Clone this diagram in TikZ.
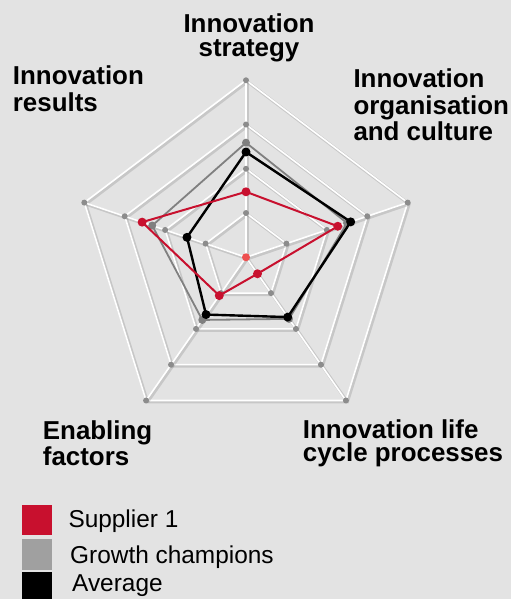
\documentclass[tikz,border=0pt]{standalone}
\usepackage{fontspec}
\setmainfont{Liberation Sans}
\usetikzlibrary{positioning}
\definecolor{suppred}{RGB}{200,16,46}
\definecolor{ctrred}{RGB}{238,80,80}
\definecolor{champgray}{RGB}{128,128,128}
\definecolor{keygray}{RGB}{160,160,160}
\definecolor{dotgray}{RGB}{140,140,140}
\definecolor{bggray}{RGB}{227,227,227}

\begin{document}
\begin{tikzpicture}[x=1bp,y=1bp,
  webline/.style={draw=white, line width=1.6bp, line join=round,
    preaction={draw=black, opacity=0.12, line width=3bp, transform canvas={shift={(1.5bp,-1.5bp)}}}},
  gdot/.style={circle, fill=dotgray, inner sep=0pt, minimum size=6bp},
  axislbl/.style={font=\bfseries\fontsize{26}{27}\selectfont, inner sep=0pt, align=left, anchor=base west},
  keybox/.style={minimum width=30bp, minimum height=30.7bp, inner sep=0pt, anchor=south west},
  keylbl/.style={font=\fontsize{24.5}{26}\selectfont, inner sep=0pt, anchor=base west}]
\useasboundingbox[fill=bggray] (0,0) rectangle (511,599);

\begin{scope}[shift={(246,341.7)}, x=42.5bp, y=44.25bp]
%axes
\coordinate (ctr) at (0,0);
\coordinate (strat) at (90:4);
\coordinate (org) at (18:4);
\coordinate (life) at (-54:4);
\coordinate (enab) at (234:4);
\coordinate (res) at (162:4);

%web
\draw[webline] (90:1) -- (18:1) -- (-54:1) -- (234:1) -- (162:1) -- cycle;
\draw[webline] (90:2) -- (18:2) -- (-54:2) -- (234:2) -- (162:2) -- cycle;
\draw[webline] (90:3) -- (18:3) -- (-54:3) -- (234:3) -- (162:3) -- cycle;
\draw[webline] (strat) -- (org) -- (life) -- (enab) -- (res) -- cycle;
\draw[webline] (ctr) -- (strat);
\draw[webline] (ctr) -- (org);
\draw[webline] (ctr) -- (life);
\draw[webline] (ctr) -- (enab);
\draw[webline] (ctr) -- (res);

%web dots
\node[gdot] at (90:1) {}; \node[gdot] at (18:1) {}; \node[gdot] at (-54:1) {}; \node[gdot] at (234:1) {}; \node[gdot] at (162:1) {};
\node[gdot] at (90:2) {}; \node[gdot] at (18:2) {}; \node[gdot] at (-54:2) {}; \node[gdot] at (234:2) {}; \node[gdot] at (162:2) {};
\node[gdot] at (90:3) {}; \node[gdot] at (18:3) {}; \node[gdot] at (-54:3) {}; \node[gdot] at (234:3) {}; \node[gdot] at (162:3) {};
\node[gdot] at (strat) {}; \node[gdot] at (org) {}; \node[gdot] at (life) {}; \node[gdot] at (enab) {}; \node[gdot] at (res) {};

%growth champions
\coordinate (g1) at (90:2.59);
\coordinate (g2) at (18:2.5);
\coordinate (g3) at (-54:1.72);
\coordinate (g4) at (234:1.75);
\coordinate (g5) at (162:2.32);
\draw[champgray, line width=1.8bp, line join=round] (g1) -- (g2) -- (g3) -- (g4) -- (g5) -- cycle;
\fill[champgray] (g1) circle (4bp) (g2) circle (4bp) (g3) circle (4bp) (g4) circle (4bp) (g5) circle (4bp);

%average
\coordinate (a1) at (90:2.38);
\coordinate (a2) at (18:2.59);
\coordinate (a3) at (-54:1.67);
\coordinate (a4) at (234:1.6);
\coordinate (a5) at (162:1.46);
\draw[black, line width=2.4bp, line join=round] (a1) -- (a2) -- (a3) -- (a4) -- (a5) -- cycle;
\fill[black] (a1) circle (4.5bp) (a2) circle (4.5bp) (a3) circle (4.5bp) (a4) circle (4.5bp) (a5) circle (4.5bp);

%supplier 1
\coordinate (s1) at (90:1.48);
\coordinate (s2) at (18:2.27);
\coordinate (s3) at (-54:0.46);
\coordinate (s4) at (234:1.07);
\coordinate (s5) at (162:2.57);
\draw[suppred, line width=2bp, line join=round] (s1) -- (s2) -- (s3) -- (s4) -- (s5) -- cycle;
\fill[suppred] (s1) circle (4.5bp) (s2) circle (4.5bp) (s3) circle (4.5bp) (s4) circle (4.5bp) (s5) circle (4.5bp);
\fill[ctrred] (ctr) circle (4bp);
\end{scope}

%labels
\node[axislbl, align=center, anchor=base] (stratlbl) at (249,542) {Innovation\\[-2bp]strategy};
\node[axislbl] (reslbl) at (12.7,487.3) {Innovation\\results};
\node[axislbl] (orglbl) at (353.3,458) {Innovation\\organisation\\and culture};
\node[axislbl] (enablbl) at (42.7,133) {Enabling\\factors};
\node[axislbl] (lifelbl) at (302.7,137.3) {Innovation life\\[-3.5bp]cycle processes};

%legend
\node[keybox, fill=suppred] (supkey) at (22,63.3) {};
\node[keybox, fill=keygray] (champkey) at (22,29) {};
\node[keybox, fill=black] (avgkey) at (22,-4.4) {};
\node[keylbl] (suptxt) at (68.3,71.3) {Supplier 1};
\node[keylbl] (champtxt) at (70,35) {Growth champions};
\node[keylbl] (avgtxt) at (72,7.3) {Average};
\end{tikzpicture}
\end{document}
